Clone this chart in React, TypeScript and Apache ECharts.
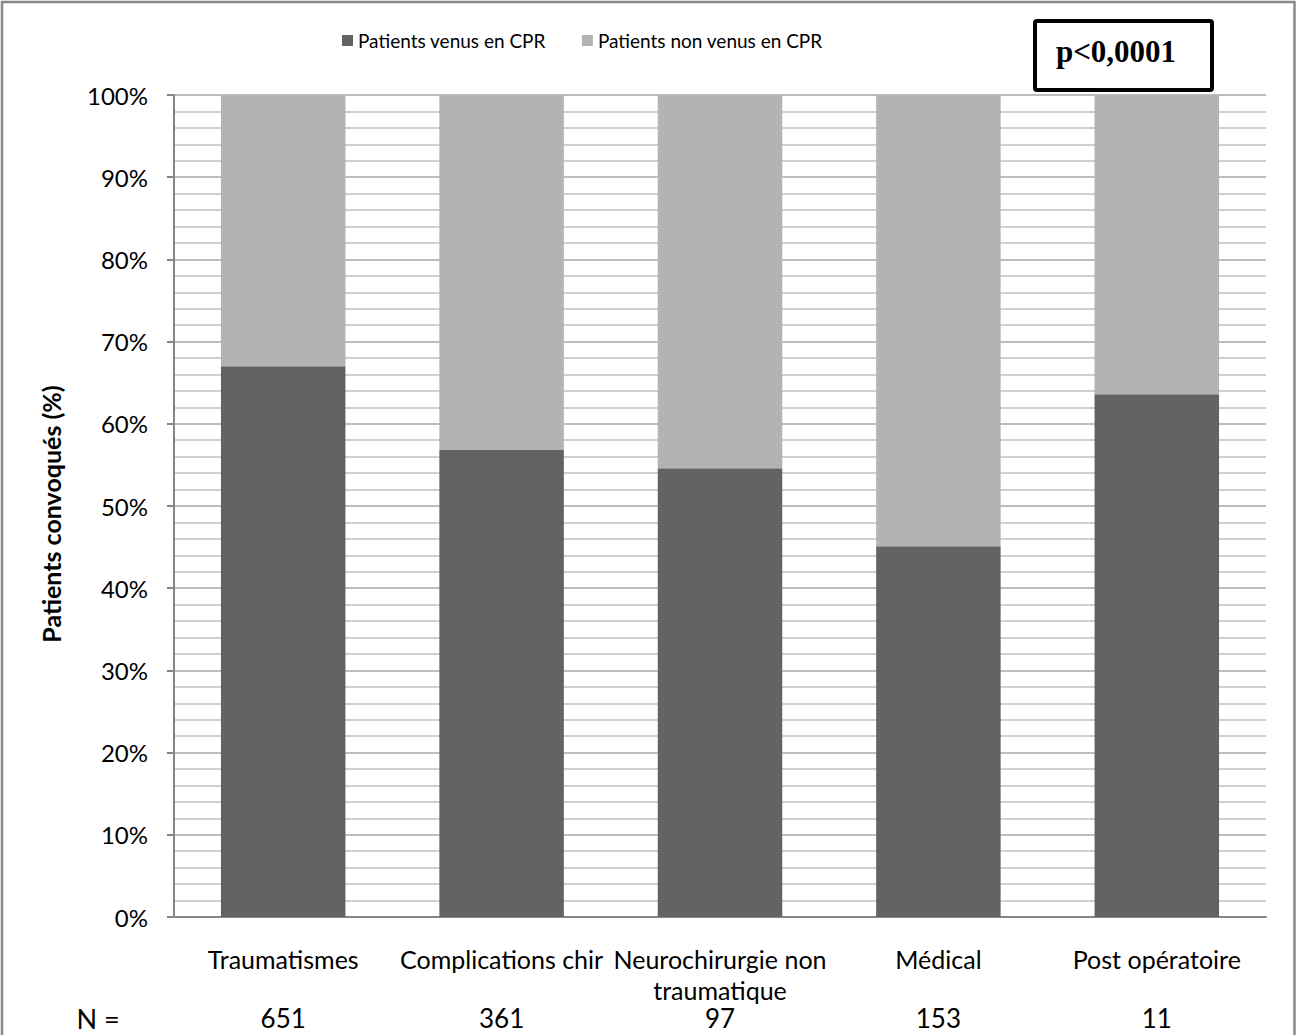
import React, { useEffect, useRef } from "react";
import * as echarts from "echarts";

const categories = ["Traumatismes", "Complications chir", "Neurochirurgie non\ntraumatique", "Médical", "Post opératoire"];
const venus = [67.0, 56.8, 54.6, 45.1, 63.6];
const nonVenus = [33.0, 43.2, 45.4, 54.9, 36.4];
const nValues = ["651", "361", "97", "153", "11"];
const seriesNames = ["Patients venus en CPR", "Patients non venus en CPR"];
const yTitle = "Patients convoqués (%)";
const pText = "p<0,0001";

const FONT = "Lato";

export default function App() {
  const ref = useRef<HTMLDivElement>(null);
  useEffect(() => {
    if (!ref.current) return;
    const chart = echarts.init(ref.current, null, { renderer: "svg" });
    chart.setOption({
      animation: false,
      backgroundColor: "#ffffff",
      textStyle: { fontFamily: FONT },
      legend: {
        left: 342,
        top: 31,
        padding: 0,
        itemWidth: 11,
        itemHeight: 11,
        itemGap: 36,
        icon: "rect",
        textStyle: { fontSize: 19, color: "#000", fontFamily: FONT },
        data: seriesNames,
      },
      grid: { left: 174, right: 30, top: 95, bottom: 118 },
      xAxis: [
        {
          type: "category",
          data: categories,
          position: "bottom",
          axisLine: { lineStyle: { color: "#868686", width: 2 } },
          axisTick: { show: false },
          axisLabel: {
            interval: 0,
            margin: 26,
            fontSize: 25,
            lineHeight: 31,
            color: "#000",
            fontFamily: FONT,
          },
        },
        {
          type: "category",
          data: nValues,
          position: "bottom",
          axisLine: { show: false },
          axisTick: { show: false },
          splitLine: { show: false },
          axisLabel: {
            interval: 0,
            margin: 85,
            fontSize: 26,
            lineHeight: 31,
            color: "#000",
            fontFamily: FONT,
          },
        },
      ],
      yAxis: {
        type: "value",
        min: 0,
        max: 100,
        interval: 10,
        name: yTitle,
        nameLocation: "middle",
        nameGap: 111,
        nameTextStyle: {
          fontSize: 25,
          fontWeight: "bold",
          color: "#000",
          fontFamily: FONT,
          padding: [0, 16, 0, 0],
        },
        axisLine: { show: true, lineStyle: { color: "#868686", width: 2 } },
        axisTick: { show: true, length: 7, lineStyle: { color: "#868686", width: 2 } },
        axisLabel: { formatter: "{value}%", fontSize: 24, margin: 26, color: "#000", fontFamily: FONT },
        splitLine: { show: true, lineStyle: { color: "#a8a8a8", width: 1.5 } },
        minorTick: { show: false, splitNumber: 5 },
        minorSplitLine: { show: true, lineStyle: { color: "#c0c0c0", width: 1.5 } },
      },
      series: [
        {
          name: seriesNames[0],
          type: "bar",
          stack: "total",
          data: venus,
          barWidth: "57%",
          itemStyle: { color: "#636363" },
        },
        {
          name: seriesNames[1],
          type: "bar",
          stack: "total",
          data: nonVenus,
          barWidth: "57%",
          itemStyle: { color: "#b3b3b3" },
        },
      ],
      graphic: [
        {
          type: "rect",
          shape: { x: 2, y: 2, width: 1292.5, height: 1100 },
          style: { fill: "none", stroke: "#888888", lineWidth: 2.5 },
          silent: true,
        },
        {
          type: "rect",
          shape: { x: 1035, y: 21, width: 177, height: 69, r: 2 },
          style: { fill: "#ffffff", stroke: "#000000", lineWidth: 4 },
        },
        {
          type: "text",
          x: 1116,
          y: 51,
          style: {
            text: pText,
            fontFamily: "Liberation Serif",
            fontWeight: "bold",
            fontSize: 31,
            fill: "#000",
            align: "center",
            verticalAlign: "middle",
          },
        },
        {
          type: "text",
          x: 98,
          y: 1018,
          style: {
            text: "N =",
            fontFamily: FONT,
            fontSize: 27,
            fill: "#000",
            align: "center",
            verticalAlign: "middle",
          },
        },
      ],
    });
    return () => chart.dispose();
  }, []);
  return (
    <div
      ref={ref}
      style={{ position: "absolute", left: 0, top: 0, width: 1296, height: 1035 }}
    />
  );
}
